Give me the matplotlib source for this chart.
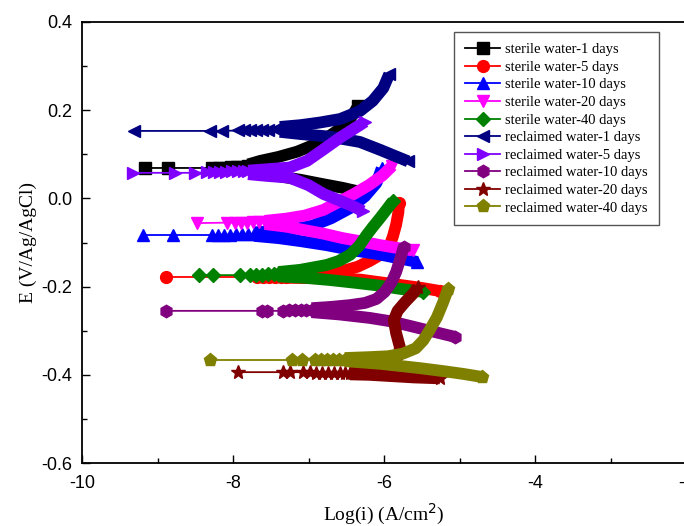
import matplotlib
matplotlib.use('Agg')
import matplotlib.pyplot as plt
from matplotlib.ticker import MultipleLocator

# ---------------- data (log i [A/cm2], E [V]) ----------------
labels = ["sterile water-1 days", "sterile water-5 days", "sterile water-10 days",
          "sterile water-20 days", "sterile water-40 days", "reclaimed water-1 days",
          "reclaimed water-5 days", "reclaimed water-10 days", "reclaimed water-20 days",
          "reclaimed water-40 days"]

# sterile water - 1 day
s1_tip = [(-9.17, 0.069), (-8.86, 0.069), (-8.28, 0.069), (-8.18, 0.070), (-8.10, 0.070),
          (-8.02, 0.071), (-7.95, 0.072), (-7.87, 0.072), (-7.80, 0.073)]
s1_ano = [(-7.80, 0.077), (-7.64, 0.085), (-7.40, 0.094), (-7.15, 0.106), (-6.85, 0.127),
          (-6.58, 0.158), (-6.45, 0.180), (-6.34, 0.210)]
s1_cat = [(-7.80, 0.066), (-7.64, 0.061), (-7.38, 0.050), (-7.10, 0.042), (-6.80, 0.032),
          (-6.55, 0.024), (-6.32, 0.015)]

# sterile water - 5 days
s5_tip = [(-8.89, -0.178), (-7.68, -0.178), (-7.60, -0.178), (-7.52, -0.178), (-7.44, -0.178),
          (-7.37, -0.178), (-7.30, -0.178)]
s5_ano = [(-7.30, -0.176), (-7.00, -0.174), (-6.60, -0.167), (-6.35, -0.155), (-6.19, -0.142),
          (-6.05, -0.128), (-5.93, -0.110), (-5.88, -0.085), (-5.84, -0.060), (-5.81, -0.032),
          (-5.80, -0.010)]
s5_cat = [(-7.30, -0.180), (-6.90, -0.181), (-6.32, -0.184), (-5.80, -0.196), (-5.50, -0.203),
          (-5.26, -0.210)]

# sterile water - 10 days
s10_tip = [(-9.19, -0.083), (-8.79, -0.083), (-8.28, -0.083), (-8.20, -0.082), (-8.12, -0.082),
           (-8.04, -0.082), (-7.96, -0.081), (-7.88, -0.081), (-7.80, -0.081), (-7.72, -0.080)]
s10_ano = [(-7.72, -0.077), (-7.30, -0.073), (-6.95, -0.062), (-6.70, -0.045), (-6.45, -0.022),
           (-6.25, 0.005), (-6.10, 0.035), (-6.03, 0.068)]
s10_cat = [(-7.72, -0.085), (-7.40, -0.090), (-7.10, -0.097), (-6.76, -0.106), (-6.40, -0.118),
           (-6.09, -0.126), (-5.80, -0.136), (-5.56, -0.144)]

# sterile water - 20 days
s20_tip = [(-8.48, -0.056), (-8.08, -0.055), (-7.98, -0.055), (-7.90, -0.055), (-7.82, -0.055),
           (-7.74, -0.054), (-7.66, -0.054), (-7.58, -0.054)]
s20_ano = [(-7.58, -0.051), (-7.30, -0.046), (-7.05, -0.039), (-6.80, -0.026), (-6.60, -0.008),
           (-6.40, 0.010), (-6.20, 0.030), (-6.02, 0.052), (-5.89, 0.074)]
s20_cat = [(-7.58, -0.058), (-7.30, -0.064), (-7.05, -0.072), (-6.80, -0.080), (-6.55, -0.090),
           (-6.32, -0.097), (-6.05, -0.106), (-5.80, -0.113), (-5.62, -0.118)]

# sterile water - 40 days
s40_tip = [(-8.45, -0.174), (-8.26, -0.174), (-7.91, -0.174), (-7.77, -0.174), (-7.69, -0.173),
           (-7.61, -0.173), (-7.53, -0.172), (-7.46, -0.172), (-7.40, -0.171)]
s40_ano = [(-7.40, -0.167), (-7.11, -0.162), (-6.76, -0.151), (-6.60, -0.142), (-6.45, -0.128),
           (-6.33, -0.108), (-6.23, -0.083), (-6.14, -0.063), (-6.05, -0.044), (-5.96, -0.024),
           (-5.88, -0.006)]
s40_cat = [(-7.40, -0.177), (-7.05, -0.180), (-6.72, -0.185), (-6.40, -0.191), (-6.10, -0.197),
           (-5.79, -0.205), (-5.48, -0.212)]

# reclaimed water - 1 day
r1_tip = [(-9.31, 0.153), (-8.30, 0.153), (-8.15, 0.153), (-7.93, 0.154), (-7.85, 0.154),
          (-7.77, 0.155), (-7.69, 0.155), (-7.61, 0.156), (-7.53, 0.156), (-7.45, 0.157),
          (-7.38, 0.157)]
r1_ano = [(-7.38, 0.162), (-7.11, 0.166), (-6.85, 0.172), (-6.58, 0.180), (-6.32, 0.198),
          (-6.15, 0.221), (-6.01, 0.250), (-5.93, 0.282)]
r1_cat = [(-7.38, 0.151), (-7.11, 0.146), (-6.72, 0.140), (-6.32, 0.128), (-6.05, 0.110),
          (-5.88, 0.098), (-5.68, 0.084)]

# reclaimed water - 5 days
r5_tip = [(-9.32, 0.058), (-8.77, 0.058), (-8.50, 0.058), (-8.34, 0.059), (-8.25, 0.059),
          (-8.17, 0.060), (-8.09, 0.060), (-8.01, 0.061), (-7.93, 0.061), (-7.86, 0.062),
          (-7.80, 0.062)]
r5_ano = [(-7.80, 0.063), (-7.55, 0.066), (-7.25, 0.070), (-7.02, 0.085), (-6.81, 0.110),
          (-6.58, 0.138), (-6.36, 0.162), (-6.25, 0.174)]
r5_cat = [(-7.80, 0.055), (-7.55, 0.051), (-7.25, 0.047), (-7.00, 0.030), (-6.80, 0.010),
          (-6.60, -0.004), (-6.42, -0.017), (-6.28, -0.029)]

# reclaimed water - 10 days
r10_tip = [(-8.89, -0.255), (-7.62, -0.255), (-7.55, -0.255), (-7.34, -0.255), (-7.26, -0.254),
           (-7.18, -0.254), (-7.10, -0.254), (-7.03, -0.253), (-6.96, -0.253)]
r10_ano = [(-6.96, -0.249), (-6.70, -0.246), (-6.45, -0.242), (-6.25, -0.237), (-6.10, -0.228),
           (-5.99, -0.212), (-5.90, -0.190), (-5.84, -0.167), (-5.79, -0.140), (-5.76, -0.122),
           (-5.74, -0.110)]
r10_cat = [(-6.96, -0.258), (-6.60, -0.263), (-6.19, -0.271), (-5.90, -0.279), (-5.66, -0.289),
           (-5.35, -0.302), (-5.06, -0.314)]

# reclaimed water - 20 days
r20_tip = [(-7.93, -0.394), (-7.34, -0.394), (-7.25, -0.394), (-7.07, -0.394), (-6.98, -0.394),
           (-6.90, -0.395), (-6.82, -0.395), (-6.74, -0.395), (-6.66, -0.395), (-6.58, -0.396),
           (-6.51, -0.396), (-6.45, -0.396)]
r20_ano = [(-6.45, -0.392), (-6.10, -0.386), (-5.90, -0.374), (-5.80, -0.355), (-5.79, -0.337),
           (-5.84, -0.305), (-5.87, -0.276), (-5.82, -0.255), (-5.72, -0.235), (-5.62, -0.217),
           (-5.55, -0.202)]
r20_cat = [(-6.45, -0.399), (-6.20, -0.400), (-5.90, -0.403), (-5.60, -0.406), (-5.26, -0.408)]

# reclaimed water - 40 days
r40_tip = [(-8.30, -0.366), (-7.22, -0.366), (-7.09, -0.366), (-6.91, -0.366), (-6.83, -0.366),
           (-6.75, -0.366), (-6.67, -0.366), (-6.59, -0.366), (-6.52, -0.366)]
r40_ano = [(-6.52, -0.362), (-6.20, -0.360), (-5.95, -0.358), (-5.75, -0.352), (-5.58, -0.340),
           (-5.48, -0.322), (-5.40, -0.300), (-5.30, -0.270), (-5.22, -0.237), (-5.15, -0.205)]
r40_cat = [(-6.52, -0.369), (-6.05, -0.375), (-5.52, -0.385), (-5.20, -0.392), (-4.95, -0.398),
           (-4.70, -0.405)]

x_ticks = [-10, -8, -6, -4, -2]
y_ticks = [-0.6, -0.4, -0.2, 0.0, 0.2, 0.4]

# ---------------- styles ----------------
colors = ["#000000", "#FF0000", "#0000FF", "#FF00FF", "#008000",
          "#000080", "#8000FF", "#800080", "#800000", "#808000"]
markers = ["s", "o", "^", "v", "D", "<", ">", "h", "*", "p"]
msizes = [8, 8.5, 9, 9, 7.5, 9, 9, 9, 10, 9.5]

tips = [s1_tip, s5_tip, s10_tip, s20_tip, s40_tip, r1_tip, r5_tip, r10_tip, r20_tip, r40_tip]
anos = [s1_ano, s5_ano, s10_ano, s20_ano, s40_ano, r1_ano, r5_ano, r10_ano, r20_ano, r40_ano]
cats = [s1_cat, s5_cat, s10_cat, s20_cat, s40_cat, r1_cat, r5_cat, r10_cat, r20_cat, r40_cat]

fig = plt.figure(figsize=(6.84, 5.26), dpi=100)
ax = fig.add_axes([82 / 684, 1 - 463 / 526, 604 / 684, 441 / 526])

for i in range(len(labels)):
    z = 3 + i
    c, mk, ms = colors[i], markers[i], msizes[i]
    tx, ty = zip(*tips[i])
    ax.plot(tx, ty, color=c, lw=1.3, marker=mk, ms=ms, mec=c, mfc=c,
            label=labels[i], zorder=z)
    for br in (cats[i], anos[i]):
        bx, by = zip(*br)
        ax.plot(bx, by, color=c, lw=8.5, solid_capstyle='butt',
                solid_joinstyle='round', zorder=z)
        ax.plot(bx[-1:], by[-1:], ls='none', marker=mk, ms=ms, color=c, zorder=z)

ax.set_xlim(-10, -2)
ax.set_ylim(-0.6, 0.4)
ax.set_xticks(x_ticks)
ax.set_yticks(y_ticks)
ax.set_xticklabels([str(t) for t in x_ticks])
ax.set_yticklabels(["%.1f" % t for t in y_ticks])
ax.xaxis.set_minor_locator(MultipleLocator(1))
ax.yaxis.set_minor_locator(MultipleLocator(0.1))
ax.tick_params(which='both', direction='in', top=False, right=False, width=1.0)
ax.tick_params(which='major', length=6)
ax.tick_params(which='minor', length=3.5)
ax.tick_params(axis='x', pad=9)
ax.tick_params(axis='y', pad=7)
for lab in ax.get_xticklabels() + ax.get_yticklabels():
    lab.set_fontfamily('Liberation Sans')
    lab.set_fontsize(13)
for sp in ax.spines.values():
    sp.set_linewidth(1.3)

ax.set_xlabel("Log(i) (A/cm$^2$)", family='Liberation Serif', fontsize=14)
ax.set_ylabel("E (V/Ag/AgCl)", family='Liberation Serif', fontsize=14)
ax.xaxis.set_label_coords(0.5, -0.088)
ax.yaxis.set_label_coords(-0.075, 0.5)

leg = ax.legend(loc='upper right', bbox_to_anchor=(0.955, 0.977), borderaxespad=0,
                prop={'family': 'Liberation Serif', 'size': 10.5},
                handlelength=2.4, handletextpad=0.35, labelspacing=0.3,
                borderpad=0.75, fancybox=False, framealpha=1, markerscale=1.0)
leg.get_frame().set_edgecolor('#555555')
leg.get_frame().set_linewidth(1.0)

fig.savefig("out.png", dpi=100)
